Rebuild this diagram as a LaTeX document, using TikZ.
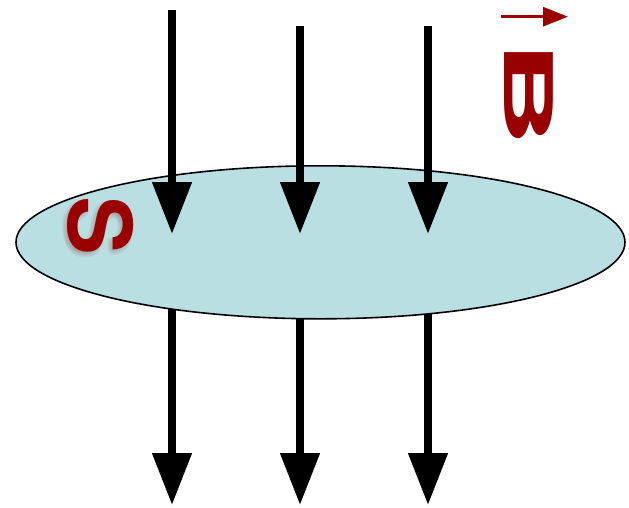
\documentclass[tikz,border=0pt]{standalone}
\usepackage{fontspec}
\setsansfont{TeX Gyre Heros}
\usetikzlibrary{positioning,shapes,arrows.meta,backgrounds}
\definecolor{surfaceblue}{HTML}{BADFE3}
\definecolor{fieldred}{HTML}{990000}

\begin{document}
\begin{tikzpicture}[x=1pt, y=-1pt,
    fluxline/.style={line width=8pt, -{Triangle[length=52pt, width=38pt]}},
    every node/.style={inner sep=0pt}]
      \useasboundingbox (0,0) rectangle (629,507);
      % Surface S
      \node[ellipse, draw, line width=1.6pt, fill=surfaceblue,
            minimum width=609pt, minimum height=153pt] (surface) at (320.5,242.3) {};
      % Field lines above the surface
      \coordinate (t1) at (172,10);  \coordinate (e1) at (172,234);
      \coordinate (t2) at (300,26);  \coordinate (e2) at (300,234);
      \coordinate (t3) at (428,26);  \coordinate (e3) at (428,234);
      \draw[fluxline] (t1) -- (e1);
      \draw[fluxline] (t2) -- (e2);
      \draw[fluxline] (t3) -- (e3);
      % Field lines below the surface
      \coordinate (b1) at (172,505);
      \coordinate (b2) at (300,505);
      \coordinate (b3) at (428,505);
      \begin{scope}[on background layer]
        \draw[fluxline] (surface.center -| b1) -- (b1);
        \draw[fluxline] (surface.center -| b2) -- (b2);
        \draw[fluxline] (surface.center -| b3) -- (b3);
      \end{scope}
      % Surface label with soft shadow
      \foreach \dx/\dy in {-4/4,-2/6,-5/1,0/4,-3/2,-1/1}
        \node[text=fieldred!50!gray, opacity=0.07, rotate=-90,
              font=\sffamily\bfseries\fontsize{88}{88}\selectfont] at (100.5+\dx,226+\dy) {S};
      \node[text=fieldred, rotate=-90,
            font=\sffamily\bfseries\fontsize{88}{88}\selectfont] (slabel) at (100.5,226) {S};
      % Field label
      \node[text=fieldred, rotate=-90, xscale=2.2,
            font=\sffamily\bfseries\fontsize{67}{67}\selectfont] (blabel) at (529,94) {B};
      \coordinate (vs) at (501,16.7);
      \coordinate (ve) at (568,16.7);
      \draw[fieldred, line width=3pt, -{Triangle[length=25pt, width=19pt]}] (vs) -- (ve);
    \end{tikzpicture}
\end{document}
